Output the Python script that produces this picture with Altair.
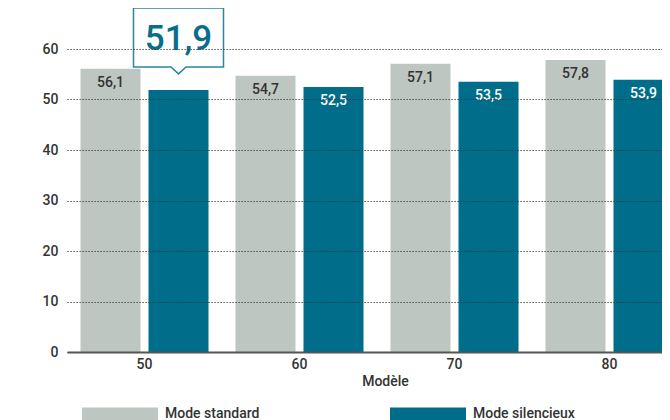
import altair as alt
import pandas as pd

models = ["50", "60", "70", "80"]
standard = [56.1, 54.7, 57.1, 57.8]
silent = [51.9, 52.5, 53.5, 53.9]
series = ["Mode standard", "Mode silencieux"]
colors = ["#bec6c1", "#006e8a"]
y_ticks = [0, 10, 20, 30, 40, 50, 60]
highlight_model = "50"

rows = []
for m, a, b in zip(models, standard, silent):
    for s, v in zip(series, (a, b)):
        rows.append({"Modèle": m, "Série": s, "valeur": v,
                     "label": f"{v:.1f}".replace(".", ",")})
df = pd.DataFrame(rows)

FONT = "Roboto"
callout_path = "M-1,-1.822H1V-0.511H0.167L0,-0.356L-0.167,-0.511H-1Z"
legend_path = "M-1,-0.171H1V0.171H-1Z"

x_enc = alt.X("Modèle:N", sort=models,
              scale=alt.Scale(paddingInner=0.174, paddingOuter=0.087, range=[0, 620]),
              axis=alt.Axis(labelAngle=0, ticks=False, domainColor="#555",
                            domainWidth=2, labelPadding=5, labelFont=FONT,
                            labelFontSize=14, labelFontWeight=500, labelColor="#333",
                            title="Modèle", titleFont=FONT, titleFontSize=14,
                            titleFontWeight=500, titleColor="#333",
                            titlePadding=3, titleX=318, zindex=1))
xo_enc = alt.XOffset("Série:N", sort=series,
                     scale=alt.Scale(paddingInner=0.1176, paddingOuter=0))
y_enc = alt.Y("valeur:Q", scale=alt.Scale(domain=[0, 60], nice=False),
              axis=alt.Axis(values=y_ticks, grid=True, gridDash=[1.2, 1.8],
                            gridColor="#333", gridOpacity=1, gridWidth=1.2,
                            domain=False, ticks=False, labelFont=FONT,
                            labelFontSize=14, labelFontWeight=500, labelColor="#333",
                            labelPadding=9, title=None, zindex=1))

base = alt.Chart(df)

bars = base.mark_bar(clip=True).encode(
    x=x_enc, xOffset=xo_enc, y=y_enc,
    color=alt.Color("Série:N", sort=series,
                    scale=alt.Scale(domain=series, range=colors),
                    legend=alt.Legend(orient="none", legendX=15, legendY=327,
                                      direction="horizontal", columns=2,
                                      columnPadding=130, title=None,
                                      symbolType=legend_path, symbolSize=5776,
                                      symbolStrokeWidth=0, symbolOpacity=1,
                                      labelFont=FONT, labelFontSize=14,
                                      labelFontWeight=500, labelColor="#333",
                                      labelOffset=7)),
)

labels = base.transform_filter(
    (alt.datum["Modèle"] != highlight_model) | (alt.datum["Série"] == series[0])
).mark_text(baseline="middle", dy=14, fontSize=14, fontWeight=500, font=FONT).encode(
    x=x_enc, xOffset=xo_enc, y=y_enc,
    text="label:N",
    color=alt.condition(alt.datum["Série"] == series[0], alt.value("#333"), alt.value("white")),
)

hl = base.transform_filter(
    (alt.datum["Modèle"] == highlight_model) & (alt.datum["Série"] == series[1])
)
callout = hl.mark_point(shape=callout_path, size=8100, filled=True, fill="white",
                        fillOpacity=1, stroke="#2a86a0", strokeWidth=1.5,
                        strokeOpacity=1, opacity=1).encode(
    x=x_enc, xOffset=xo_enc, y=y_enc)
callout_text = hl.mark_text(baseline="alphabetic", dy=-40, fontSize=35,
                            font=FONT, fontWeight=500, color="#0a6e8a").encode(
    x=x_enc, xOffset=xo_enc, y=y_enc, text="label:N")

chart = alt.layer(bars, labels, callout, callout_text).properties(
    width=595, height=303,
    autosize=alt.AutoSizeParams(type="none"),
    padding={"left": 59, "top": 41, "right": 0, "bottom": 68},
).configure_view(stroke=None)

chart.save("out.html", embed_options={"renderer": "svg", "actions": False})
